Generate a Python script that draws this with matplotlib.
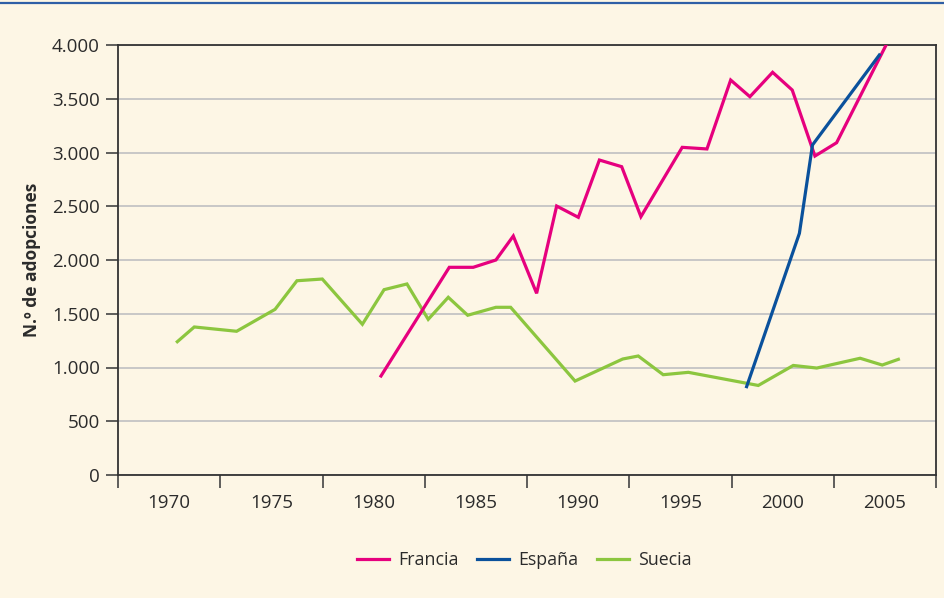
import matplotlib
matplotlib.use("Agg")
import matplotlib.pyplot as plt
from matplotlib.ticker import FuncFormatter, MultipleLocator, FixedLocator

# Data (years as positioned on the chart, values = adoptions)
suecia_years = [1970.40, 1971.23, 1973.30, 1975.18, 1976.25, 1977.49, 1979.45, 1980.51,
                1981.63, 1982.67, 1983.65, 1984.60, 1985.98, 1986.70, 1989.85, 1992.18,
                1992.94, 1994.16, 1995.39, 1998.81, 2000.52, 2001.67, 2003.79, 2004.87,
                2005.66]
suecia_vals = [1240, 1377, 1337, 1541, 1807, 1823, 1402, 1724,
               1777, 1448, 1653, 1486, 1560, 1560, 874, 1079,
               1107, 933, 955, 833, 1019, 995, 1086, 1023,
               1076]

francia_years = [1980.36, 1983.70, 1984.87, 1985.98, 1986.83, 1987.97, 1988.95, 1990.01,
                 1991.04, 1992.13, 1993.07, 1995.09, 1996.30, 1997.46, 1998.40, 1999.51,
                 2000.47, 2001.58, 2002.64, 2005.06]
francia_vals = [921, 1932, 1932, 2000, 2223, 1690, 2502, 2397,
                2930, 2868, 2403, 3048, 3033, 3674, 3519, 3746,
                3581, 2967, 3091, 4000]

espana_years = [1998.24, 2000.82, 2001.46, 2004.73]
espana_vals = [822, 2248, 3070, 3907]

tick_labels = ["1970", "1975", "1980", "1985", "1990", "1995", "2000", "2005"]
label_years = [1970, 1975, 1980, 1985, 1990, 1995, 2000, 2005]

BG = "#fdf6e5"
PINK = "#e6007e"
BLUE = "#0a519c"
GREEN = "#8cc63f"
TXT = "#2b2b2b"
FONT = ["Open Sans", "DejaVu Sans"]

fig = plt.figure(figsize=(9.45, 5.98), dpi=100, facecolor=BG)
ax = fig.add_axes([118/945, 1 - 475/598, (936-118)/945, (475-45)/598])
ax.set_facecolor(BG)

lw = 2.3
ax.plot(francia_years, francia_vals, color=PINK, lw=lw, label="Francia", solid_joinstyle="miter", zorder=3)
ax.plot(espana_years, espana_vals, color=BLUE, lw=lw, label="España", solid_joinstyle="miter", zorder=3)
ax.plot(suecia_years, suecia_vals, color=GREEN, lw=lw, label="Suecia", solid_joinstyle="miter", zorder=2)

ax.set_xlim(1967.5, 2007.5)
ax.set_ylim(0, 4000)

ax.yaxis.set_major_locator(MultipleLocator(500))
ax.yaxis.set_major_formatter(FuncFormatter(lambda v, p: f"{int(v):,}".replace(",", ".")))
ax.grid(axis="y", color="#c4c4c4", lw=1.3, zorder=1)
ax.set_axisbelow(True)

# major ticks (marks only) every 5 years between labels; labels on minor positions
ax.xaxis.set_major_locator(FixedLocator([1967.5 + 5*i for i in range(9)]))
ax.xaxis.set_major_formatter(FuncFormatter(lambda v, p: ""))
ax.set_xticks(label_years, tick_labels, minor=True)
ax.tick_params(axis="x", which="minor", length=0, pad=14, labelsize=13.5, labelcolor=TXT)
ax.tick_params(axis="x", which="major", length=9, width=1.2, color="#444444", direction="out")
ax.tick_params(axis="y", length=9, width=1.2, color="#444444", pad=4, labelsize=13.5, labelcolor=TXT)

for s in ax.spines.values():
    s.set_color("#333333")
    s.set_linewidth(1.3)

for lab in ax.get_xticklabels(minor=True) + ax.get_yticklabels():
    lab.set_family(FONT)

ax.set_ylabel("N.º de adopciones", fontsize=12.5, fontweight="bold", color=TXT,
              family=FONT, labelpad=8)

leg = fig.legend(loc="center", bbox_to_anchor=(0.555, 0.0635), ncol=3, frameon=False,
                 handlelength=1.8, columnspacing=1.0, handletextpad=0.55,
                 prop={"family": FONT, "size": 12.8})
for t in leg.get_texts():
    t.set_color(TXT)

# top blue rule
fig.add_artist(plt.Line2D([0, 1], [1 - 3/598, 1 - 3/598], color="#2f5fa6", lw=1.6,
                          transform=fig.transFigure))

fig.savefig("out.png", dpi=100, facecolor=BG)
